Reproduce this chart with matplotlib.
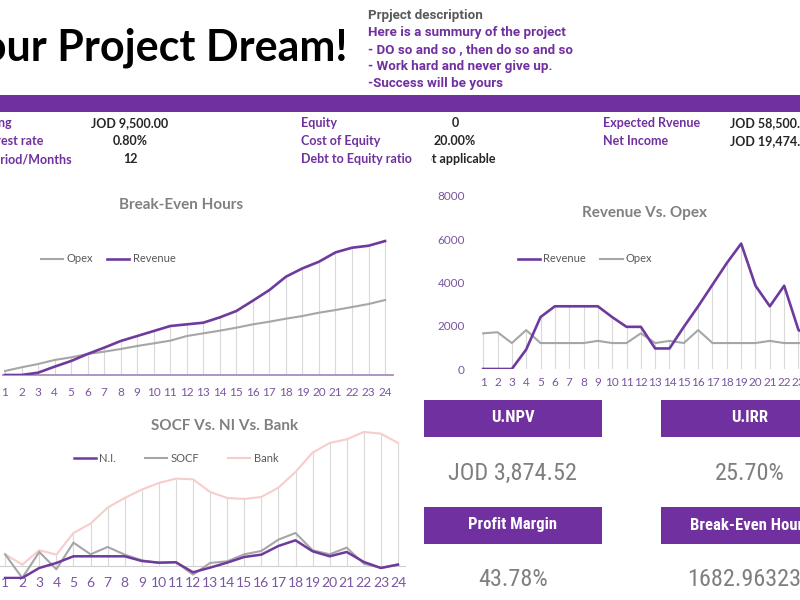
import matplotlib
matplotlib.use("Agg")
import matplotlib.pyplot as plt
import numpy as np
from matplotlib.patches import Rectangle
from matplotlib import font_manager
from matplotlib.transforms import Bbox, TransformedBbox

months = list(range(1, 25))

# Break-Even Hours (cumulative)
be_revenue = [0, 0, 1000, 3640, 6110, 9170, 11930, 14840, 17020, 19200, 21390, 22120,
              22840, 25170, 27940, 32450, 37100, 42920, 46560, 49470, 53540, 55580, 56450, 58500]
be_opex = [1750, 3350, 4800, 6550, 7710, 9170, 10190, 11350, 12660, 13820, 14990, 17020,
           18190, 19350, 20660, 22120, 23280, 24590, 25750, 27210, 28370, 29680, 30990, 32740]

# Revenue Vs. Opex (monthly)
revenue = [0, 0, 0, 900, 2400, 2900, 2900, 2900, 2900, 2400, 1950, 1950,
           950, 950, 1950, 2900, 3900, 4900, 5800, 3850, 2900, 3850, 1800, 1500]
opex = [1650, 1700, 1200, 1800, 1200, 1200, 1200, 1200, 1300, 1200, 1200, 1650,
        1200, 1300, 1200, 1800, 1200, 1200, 1200, 1200, 1300, 1200, 1200, 1200]

# SOCF Vs. NI Vs. Bank
ni = [-1800, -1800, -300, 450, 1450, 1450, 1450, 1450, 750, 500, 550, -950,
      -250, 500, 1350, 1700, 3000, 3850, 2200, 1450, 2100, 600, -300, 200]
socf = [1750, -1800, 2100, -500, 3500, 1750, 2850, 1700, 850, 450, 600, -1300,
        450, 700, 1750, 2250, 3950, 4950, 2350, 1750, 2750, 350, -300, 250]
bank = [1750, 200, 2350, 1700, 4950, 6350, 8750, 10200, 11450, 12450, 13100, 13000,
        11100, 10200, 10050, 10350, 11750, 14100, 17000, 18450, 19000, 20100, 19850, 18450]

# header info
info_left = [("Financing", "JOD 9,500.00"), ("Interest rate", "0.80%"), ("Period/Months", "12")]
info_mid = [("Equity", "0"), ("Cost of Equity", "20.00%"), ("Debt to Equity ratio", "Not applicable")]
info_right = [("Expected Rvenue", "JOD 58,500.00"), ("Net Income", "JOD 19,474.50")]
description = ["Prpject description", "Here is a summury of the project",
               "- DO so and so , then do so and so", "- Work hard and never give up.",
               "-Success will be yours"]
kpis = [("U.NPV", "JOD 3,874.52"), ("U.IRR", "25.70%"),
        ("Profit Margin", "43.78%"), ("Break-Even Hours", "1682.963235")]

PURPLE = "#7030A0"
LINE_PURPLE = "#6E3A9E"
GRAY = "#A6A6A6"
PINK = "#F7CDCB"
DROP = "#D9D9D9"
TICK = "#7A55A0"
TITLE_GRAY = "#808080"

installed = {f.name for f in font_manager.fontManager.ttflist}
NARROW = "Roboto"
VAL_SIZE = 16.5
LAB_SIZE = 11
for cand in ["Liberation Sans Narrow", "DejaVu Sans Condensed", "Roboto Condensed"]:
    if cand in installed:
        NARROW = cand
        VAL_SIZE = 17.5
        LAB_SIZE = 12
        break
plt.rcParams["font.family"] = ["Lato", "DejaVu Sans"]

W, H = 800, 600
fig = plt.figure(figsize=(8, 6), dpi=100)


def fx(x):
    return x / W


def fy(y):
    return 1 - y / H


def axes_px(left, top, right, bottom):
    return fig.add_axes([left / W, 1 - bottom / H, (right - left) / W, (bottom - top) / H])


# ---- header ----
fig.text(fx(348), fy(60), "Your Project Dream!", ha="right", va="baseline",
         fontsize=31, fontweight="bold", color="black")
for i, line in enumerate(description):
    fig.text(fx(368), fy(15 + i * 17.2), line, ha="left", va="center", fontsize=9.6,
             fontweight="bold", family=["Roboto", "DejaVu Sans"],
             color="#595959" if i == 0 else PURPLE)

fig.patches.append(Rectangle((0, fy(112)), 1, (112 - 95) / H, transform=fig.transFigure,
                             facecolor=PURPLE, edgecolor="none"))

rows_y = [123, 141, 159]
label_ends = [12, 43, 72]
for (lab, val), y, xe in zip(info_left, rows_y, label_ends):
    fig.text(fx(xe), fy(y), lab, ha="right", va="center", fontsize=9, fontweight="bold", color=PURPLE)
    fig.text(fx(130), fy(y), val, ha="center", va="center", fontsize=9, fontweight="bold", color="#262626")
for (lab, val), y in zip(info_mid, rows_y):
    fig.text(fx(301), fy(y), lab, ha="left", va="center", fontsize=9, fontweight="bold", color=PURPLE)
    t = fig.text(fx(455), fy(y), val, ha="center", va="center", fontsize=9, fontweight="bold", color="#262626")
    t.set_clip_box(TransformedBbox(Bbox.from_extents(fx(431), 0, 1, 1), fig.transFigure))
    t.set_clip_on(True)
for (lab, val), y in zip(info_right, rows_y):
    fig.text(fx(603), fy(y), lab, ha="left", va="center", fontsize=9, fontweight="bold", color=PURPLE)
    fig.text(fx(730), fy(y), val, ha="left", va="center", fontsize=9, fontweight="bold", color="#262626")


def style_cat_axis(ax, size, pad):
    ax.set_xticks(months)
    ax.tick_params(axis="x", length=0, pad=pad, labelsize=size, labelcolor=TICK)
    for s in ["top", "right", "left"]:
        ax.spines[s].set_visible(False)
    ax.set_yticks([])
    ax.patch.set_alpha(0)


def legend(ax, handles, cx, cy, gap):
    leg = ax.legend(handles=handles, loc="center", bbox_to_anchor=(fx(cx), fy(cy)),
                    bbox_transform=fig.transFigure, ncol=len(handles), frameon=False,
                    fontsize=8, handlelength=2.0, handletextpad=0.3, columnspacing=gap,
                    borderpad=0, borderaxespad=0)
    for t in leg.get_texts():
        t.set_color("#595959")


# ---- Break-Even Hours ----
ax1 = axes_px(3, 214.7, 393, 375)
ax1.vlines(months, 0, np.maximum(be_revenue, be_opex), color=DROP, lw=0.8, zorder=1)
l_op, = ax1.plot(months, be_opex, color=GRAY, lw=1.5, label="Opex", zorder=2)
l_rev, = ax1.plot(months, be_revenue, color=LINE_PURPLE, lw=1.9, label="Revenue", zorder=3)
ax1.set_xlim(0.88, 24.48)
ax1.set_ylim(0, 70000)
style_cat_axis(ax1, 8.5, 9)
ax1.spines["bottom"].set_color("#A98BBE")
ax1.spines["bottom"].set_linewidth(1.3)
legend(ax1, [l_op, l_rev], 108, 259, 1.3)
fig.text(fx(181), fy(205), "Break-Even Hours", ha="center", va="center", fontsize=11,
         fontweight="bold", color=TITLE_GRAY)

# ---- Revenue Vs. Opex ----
ax2 = axes_px(476, 196, 820, 369)
ax2.vlines(months, 0, np.maximum(revenue, opex), color=DROP, lw=0.8, zorder=1)
r2, = ax2.plot(months, revenue, color=LINE_PURPLE, lw=1.9, label="Revenue", zorder=3)
o2, = ax2.plot(months, opex, color=GRAY, lw=1.5, label="Opex", zorder=2)
ax2.set_xlim(0.5, 24.5)
ax2.set_ylim(0, 8000)
ax2.set_xticks(months)
ax2.set_yticks([0, 2000, 4000, 6000, 8000])
ax2.tick_params(axis="x", length=0, pad=6, labelsize=8.5, labelcolor=TICK)
ax2.tick_params(axis="y", length=0, pad=8, labelsize=8.5, labelcolor=TICK)
for s in ax2.spines.values():
    s.set_visible(False)
ax2.patch.set_alpha(0)
legend(ax2, [r2, o2], 585, 259, 1.3)
fig.text(fx(644), fy(213), "Revenue Vs. Opex", ha="center", va="center", fontsize=11,
         fontweight="bold", color=TITLE_GRAY)

# ---- SOCF Vs. NI Vs. Bank ----
ax3 = axes_px(0, 419.3, 405, 579.3)
ax3.vlines(months, 0, np.maximum(np.maximum(bank, ni), socf), color=DROP, lw=0.8, zorder=1)
b3, = ax3.plot(months, bank, color=PINK, lw=1.5, label="Bank", zorder=2)
s3, = ax3.plot(months, socf, color=GRAY, lw=1.5, label="SOCF", zorder=3)
n3, = ax3.plot(months, ni, color=LINE_PURPLE, lw=1.8, label="N.I.", zorder=4)
ax3.set_xlim(0.7, 24.41)
ax3.set_ylim(-2000, 22000)
style_cat_axis(ax3, 10, 8)
ax3.spines["bottom"].set_position(("data", 0))
ax3.spines["bottom"].set_color("#D0D0D0")
legend(ax3, [n3, s3, b3], 176, 458, 2.6)
fig.text(fx(225), fy(426), "SOCF Vs. NI Vs. Bank", ha="center", va="center", fontsize=11,
         fontweight="bold", color=TITLE_GRAY)

# ---- KPI boxes ----
box_pos = [(424, 400), (661, 400), (424, 507), (661, 507)]
for (lab, val), (bx, by) in zip(kpis, box_pos):
    fig.patches.append(Rectangle((fx(bx), fy(by + 37)), 178 / W, 37 / H, transform=fig.transFigure,
                                 facecolor=PURPLE, edgecolor="none"))
    fig.text(fx(bx + 89), fy(by + 18), lab, ha="center", va="center", fontsize=LAB_SIZE,
             fontweight="bold", family=[NARROW, "DejaVu Sans"], color="white")
    fig.text(fx(bx + 89), fy(by + 73), val, ha="center", va="center", fontsize=VAL_SIZE,
             family=[NARROW, "DejaVu Sans"], color="#7F7F7F")

fig.savefig("out.png", dpi=100)
